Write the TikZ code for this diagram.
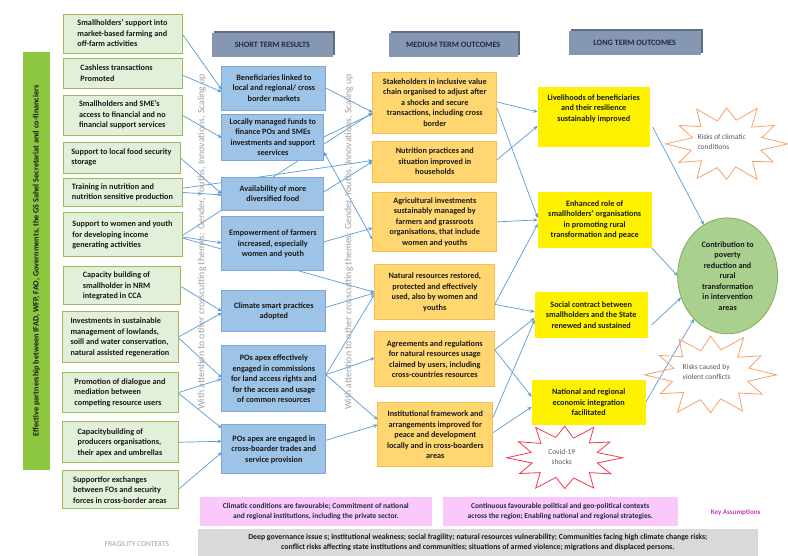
\documentclass[tikz,border=0pt]{standalone}
\usepackage{fontspec}
\setmainfont{Carlito}
\usetikzlibrary{arrows.meta,calc,shapes.geometric,shadows}
\pgfdeclarelayer{bgfill}
\pgfdeclarelayer{lines}
\pgfsetlayers{bgfill,lines,main}
\definecolor{lgfill}{HTML}{E2EFD9}
\definecolor{lgdraw}{HTML}{9BBB59}
\definecolor{barg}{HTML}{8DC63F}
\definecolor{sfill}{HTML}{9DC3E6}
\definecolor{sdraw}{HTML}{7EA6D6}
\definecolor{mfill}{HTML}{FFD670}
\definecolor{mdraw}{HTML}{F4BE55}
\definecolor{hfill}{HTML}{8597B1}
\definecolor{hshadow}{HTML}{5E6E88}
\definecolor{htext}{HTML}{1F2B40}
\definecolor{arr}{HTML}{5B9BD5}
\definecolor{cfill}{HTML}{A9D08E}
\definecolor{cdraw}{HTML}{7DAF5B}
\definecolor{starO}{HTML}{F4A36C}
\definecolor{starR}{HTML}{F03C4B}
\definecolor{pinkf}{HTML}{FBC8FB}
\definecolor{grayf}{HTML}{D9D9D9}
\definecolor{keyc}{HTML}{C03AC0}
\definecolor{rotg}{HTML}{A0A0A0}
\definecolor{txt}{HTML}{1A1A1A}
\definecolor{startxt}{HTML}{595959}
\begin{document}
\begin{tikzpicture}[x=1pt,y=-1pt,
  bx/.style={inner sep=0pt, outer sep=0pt, font=\bfseries\fontsize{8.2}{10.5}\selectfont, text=txt},
  lbox/.style 2 args={bx, draw=lgdraw, fill=lgfill, line width=0.8pt, align=left, minimum width=#1, minimum height=#2},
  sbox/.style 2 args={bx, draw=sdraw, fill=sfill, line width=0.8pt, align=center, minimum width=#1, minimum height=#2},
  mbox/.style 2 args={bx, draw=mdraw, fill=mfill, line width=0.8pt, align=center, minimum width=#1, minimum height=#2},
  ybox/.style 2 args={bx, fill=yellow, align=center, minimum width=#1, minimum height=#2},
  hbox/.style={bx, fill=hfill, text=htext, minimum height=24pt, font=\bfseries\fontsize{8.2}{10}\selectfont,
    general shadow={fill=hshadow, shadow xshift=2pt, shadow yshift=2pt}},
  con/.style={draw=arr, line width=0.7pt, -{Stealth[length=4.5pt,width=3.6pt]}},
  dcon/.style={draw=arr, line width=0.7pt, {Stealth[length=4.5pt,width=3.6pt]}-{Stealth[length=4.5pt,width=3.6pt]}},
  rottxt/.style={rotate=90, text=rotg, font=\fontsize{9.8}{11}\selectfont, inner sep=0pt},
  startext/.style={align=left, text=startxt, font=\fontsize{7.5}{10}\selectfont, inner sep=0pt},
  starline/.style={line width=0.8pt, line join=miter}
]
\begin{pgfonlayer}{bgfill}
\fill[white] (0,0) rectangle (788,556);
\end{pgfonlayer}

% partnership bar
\node[bx, fill=barg, rotate=90, minimum width=418pt, minimum height=27pt] (bar) at (36.5,261) {Effective partnership between IFAD, WFP, FAO, Governments, the GS Sahel Secretariat and co-financiers};

% left column
\node[lbox={119pt}{39pt}] (a1) at (122.5,33.5) {Smallholders' support into\\market-based farming and\\off-farm activities};
\node[lbox={119pt}{30pt}] (a2) at (122.5,73) {Cashless transactions\\Promoted\hspace*{50pt}};
\node[lbox={119pt}{40pt}] (a3) at (122.5,115) {Smallholders and SME's\\access to financial and no\\financial support services};
\node[lbox={117pt}{31pt}] (a4) at (121.5,157.5) {Support to local food security\\storage};
\node[lbox={119pt}{29pt}] (a5) at (122.5,192.5) {Training in nutrition and\\nutrition sensitive production};
\node[lbox={119pt}{44pt}] (a6) at (122.5,235) {Support to women and youth\\for developing income\\generating activities};
\node[lbox={117pt}{38pt}] (a7) at (121.5,286) {Capacity building of\hspace*{10pt}\\smallholder in NRM\\integrated  in CCA};
\node[lbox={116pt}{51pt}] (a8) at (120,337.5) {Investments in sustainable\\management of lowlands,\\soill and water conservation,\\natural assisted regeneration};
\node[lbox={116pt}{40pt}] (a9) at (120,393) {Promotion of dialogue and\\mediation between\\competing resource users};
\node[lbox={116pt}{41pt}] (a10) at (120,442.5) {Capacitybuilding of\\producers organisations,\\their apex and umbrellas};
\node[lbox={116pt}{38pt}] (a11) at (120,490) {Supportfor exchanges\\between FOs and security\\forces in cross-border areas};

% headers
\node[hbox, minimum width=121pt] (h1) at (272.5,45) {SHORT TERM RESULTS};
\node[hbox, minimum width=129pt] (h2) at (453.5,45) {MEDIUM TERM OUTCOMES};
\node[hbox, minimum width=132pt] (h3) at (635,43) {LONG TERM OUTCOMES};

% rotated crosscutting texts
\node[rottxt] (t1) at (202,242) {With attention to other crosscutting themes: Gender, Youths, Innovations, Scaling up};
\node[rottxt] (t2) at (349,242) {With attention to other crosscutting themes: Gender, Youths, Innovations, Scaling up};

% short term
\node[sbox={104pt}{44pt}] (s1) at (274,88) {Beneficiaries linked to\\local and regional/  cross\\border markets};
\node[sbox={102pt}{46pt}] (s2) at (273,137) {Locally managed funds to\\finance POs and SMEs\\investments and support\\seervices};
\node[sbox={102pt}{34pt}] (s3) at (273,194) {Availability of more\\diversified  food};
\node[sbox={102pt}{54pt}] (s4) at (273,244) {Empowerment of farmers\\increased, especially\\women and youth};
\node[sbox={104pt}{41pt}] (s5) at (274,311.5) {Climate smart practices\\adopted};
\node[sbox={104pt}{66pt}] (s6) at (274,379) {POs apex effectively\\engaged in commissions\\for land access rights and\\for the access and usage\\of common resources};
\node[sbox={104pt}{49pt}] (s7) at (274,449.5) {POs apex  are engaged in\\cross-boarder trades and\\service provision};

% medium term
\node[mbox={124pt}{61pt}] (m1) at (435,102.5) {Stakeholders in inclusive value\\chain organised to adjust after\\a shocks and secure\\transactions, including cross\\border};
\node[mbox={124pt}{41pt}] (m2) at (435,161.5) {Nutrition practices and\\situation improved in\\households};
\node[mbox={124pt}{60pt}] (m3) at (435,222) {Agricultural investments\\sustainably managed by\\farmers and grassroots\\organisations, that include\\women and youths};
\node[mbox={120pt}{55pt}] (m4) at (435,292.5) {Natural resources restored,\\protected  and effectively\\used, also by women and\\youths};
\node[mbox={120pt}{55pt}] (m5) at (435,359.5) {Agreements and regulations\\for natural resources usage\\claimed by users, including\\cross-countries resources};
\node[mbox={115pt}{64pt}] (m6) at (435.5,435) {Institutional framework and\\arrangements  improved for\\peace and development\\locally and in cross-boarders\\areas};

% long term
\node[ybox={112pt}{60pt}] (l1) at (594,117) {};
\node[bx, align=center] (l1t) at (594,108.5) {Livelihoods of beneficiaries\\and their resilience\\sustainably improved};
\node[ybox={114pt}{56pt}] (l2) at (595,220) {Enhanced role of\\smallholders' organisations\\in promoting rural\\transformation and peace};
\node[ybox={113pt}{46pt}] (l3) at (591.5,315) {Social contract between\\smallholders and the State\\renewed and sustained};
\node[ybox={114pt}{45pt}] (l4) at (589,402.5) {National and regional\\economic integration\\facilitated};

% impact
\node[bx, ellipse, fill=cfill, draw=cdraw, line width=0.8pt, minimum width=100pt, minimum height=116pt, align=center] (c) at (728,276) {Contribution to\\poverty\\reduction and\\rural\\transformation\\in intervention\\areas};

% stars
\begin{scope}[shift={(727,144)}, xscale=61, yscale=41]
\draw[starline, draw=starO] (0:1) \foreach \a/\r in {15/.58,30/.88,45/.6,60/1,75/.58,90/.86,105/.6,120/.97,135/.58,150/.9,165/.6,180/1,195/.58,210/.9,225/.6,240/.98,255/.58,270/.88,285/.6,300/1,315/.58,330/.9,345/.6} { -- (\a:\r) } -- cycle;
\end{scope}
\node[startext] (k1) at (722,142) {Risks of climatic\\conditions};

\begin{scope}[shift={(711,375)}, xscale=66, yscale=43]
\draw[starline, draw=starO] (0:1) \foreach \a/\r in {15/.58,30/.9,45/.6,60/.97,75/.58,90/.88,105/.6,120/1,135/.58,150/.88,165/.6,180/1,195/.58,210/.9,225/.6,240/.96,255/.58,270/.9,285/.6,300/1,315/.58,330/.88,345/.6} { -- (\a:\r) } -- cycle;
\end{scope}
\node[startext] (k2) at (707,372) {Risks caused by\\violent conflicts};

\begin{scope}[shift={(565,458)}, xscale=58, yscale=35]
\draw[starline, draw=starR] (0:1) \foreach \a/\r in {15/.58,30/.92,45/.6,60/1,75/.6,90/.88,105/.58,120/1,135/.6,150/.9,165/.58,180/1,195/.6,210/.92,225/.58,240/1,255/.6,270/.9,285/.58,300/1,315/.6,330/.9,345/.58} { -- (\a:\r) } -- cycle;
\end{scope}
\node[startext, align=center] (k3) at (562,457) {Covid-19\\shocks};

% bottom
\node[bx, fill=pinkf, minimum width=232pt, minimum height=29pt, align=center, text=htext, font=\bfseries\fontsize{7.5}{10}\selectfont] (p1) at (316,511.5) {Climatic conditions are favourable; Commitment of national\\and regional  institutions, including  the private sector.};
\node[bx, fill=pinkf, minimum width=235pt, minimum height=29pt, align=center, text=htext, font=\bfseries\fontsize{7.5}{10}\selectfont] (p2) at (560.5,511.5) {Continuous favourable political and geo-political contexts\\across the region; Enabling national and regional strategies.};
\node[bx, text=keyc, font=\bfseries\fontsize{7}{8}\selectfont] (key) at (736,513) {Key Assumptions};
\node[bx, fill=grayf, minimum width=560pt, minimum height=27pt, align=center, font=\bfseries\fontsize{7.8}{10.5}\selectfont] (g) at (478,542.5) {Deep governance issue s; institutional weakness; social fragility; natural resources vulnerability; Communities facing high climate change risks;\\conflict risks affecting state institutions and communities; situations of armed violence; migrations and displaced persons.};
\node[text=rotg, font=\fontsize{7.5}{8}\selectfont, inner sep=0pt] (frag) at (137,544) {FRAGILITY CONTEXTS};

% connectors
\begin{pgfonlayer}{lines}
\draw[con] (a1.east) -- ($(s1.west)+(0,2)$);
\draw[con] ($(a2.east)+(0,2)$) -- ($(s1.west)+(0,4)$);
\draw[con] (a3.east) -- ($(s2.west)+(0,1)$);
\draw[con] (a4.east) -- (s3.west);
\draw[con] (a5.east) -- ($(s3.west)+(0,1)$);
\draw[con] ($(a5.east)+(0,-4)$) -- ($(m2.west)+(0,-1)$);
\draw[con] ($(a6.east)+(0,2)$) -- ($(s4.west)+(0,-1)$);
\draw[con] ($(a6.east)+(0,1)$) -- ($(m1.west)+(0,10)$);
\draw[con] ($(a6.east)+(0,3)$) -- (m4.west);
\draw[con] (a7.east) -- (s5.west);
\draw[con] (a8.east) -- ($(s5.west)+(0,1.5)$);
\draw[con] (a8.east) -- ($(s6.west)+(0,-1)$);
\draw[con] (a9.east) -- (s6.west);
\draw[con] (a9.east) -- ($(s7.west)+(0,-21)$);
\draw[con] (a10.east) -- ($(s7.west)+(0,-8)$);
\draw[con] (a11.east) -- ($(s7.west)+(0,3)$);
\draw[con] (s1.east) -- ($(m1.west)+(0,10)$);
\draw[con] (s2.east) -- ($(m1.west)+(0,11)$);
\draw[dcon] ($(s2.east)+(0,15)$) -- ($(m3.west)+(0,18)$);
\draw[con] ($(s3.east)+(0,-2)$) -- (m2.west);
\draw[con] ($(s4.east)+(0,-2)$) -- ($(m3.west)+(0,6)$);
\draw[con] ($(s5.east)+(0,-4)$) -- ($(m4.west)+(0,0.5)$);
\draw[con] ($(s6.east)+(0,-4)$) -- ($(m4.west)+(0,1.5)$);
\draw[con] ($(s6.east)+(0,-4)$) -- ($(m5.west)+(0,-1.5)$);
\draw[con] ($(s6.east)+(0,-4)$) -- ($(m6.west)+(0,-15)$);
\draw[con] ($(s7.east)+(0,-9)$) -- ($(m6.west)+(0,-10)$);
\draw[con] ($(m1.east)+(0,-0.5)$) -- ($(l1.west)+(0,-5)$);
\draw[con] ($(m2.east)+(0,-1.5)$) -- ($(l1.west)+(0,9)$);
\draw[con] ($(m1.east)+(0,5)$) -- ($(l2.west)+(0,-2)$);
\draw[con] (m3.east) -- (l2.west);
\draw[con] ($(m4.east)+(0,12)$) -- ($(l2.west)+(0,4)$);
\draw[con] ($(m4.east)+(0,12)$) -- ($(l3.west)+(0,-3)$);
\draw[con] ($(m5.east)+(0,-9.5)$) -- ($(l3.west)+(0,3)$);
\draw[con] ($(m5.east)+(0,-9.5)$) -- ($(l4.west)+(0,-5.5)$);
\draw[con] ($(m6.east)+(0,-17)$) -- ($(l3.west)+(0,5)$);
\draw[con] ($(m6.east)+(0,-2)$) -- ($(l4.west)+(0,4.5)$);
\draw[con] ($(l1.east)+(3,10)$) -- (c.115);
\draw[con] (l2.south east) -- (c.180);
\draw[con] ($(l3.east)+(4,10)$) -- (c.205);
\draw[con] (l4.east) -- (c.232);
\end{pgfonlayer}
\end{tikzpicture}
\end{document}
